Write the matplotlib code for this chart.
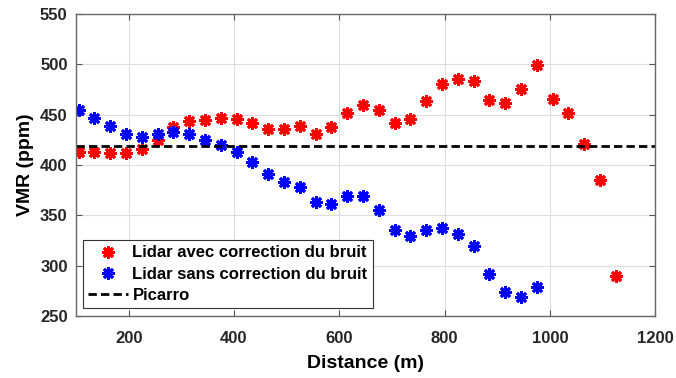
import matplotlib
matplotlib.use("Agg")
import matplotlib.pyplot as plt
import numpy as np

plt.rcParams['font.family'] = ['Liberation Sans', 'DejaVu Sans']
plt.rcParams['font.weight'] = 'bold'

# distances (m), one sample every 30 m
dist_avec = [105, 135, 165, 195, 225, 255, 285, 315, 345, 375,
             405, 435, 465, 495, 525, 555, 585, 615, 645, 675,
             705, 735, 765, 795, 825, 855, 885, 915, 945, 975,
             1005, 1035, 1065, 1095, 1125]
vmr_avec = [413, 413, 412, 412, 416, 425, 438, 444, 445, 447,
            446, 442, 436, 436, 439, 431, 438, 452, 460, 455,
            442, 446, 464, 480, 485, 483, 465, 462, 475, 499,
            466, 452, 421, 385, 290]

dist_sans = dist_avec[:30]
vmr_sans = [455, 447, 439, 431, 428, 431, 433, 431, 425, 420,
            413, 403, 391, 383, 378, 363, 361, 369, 369, 355,
            335, 329, 335, 337, 331, 320, 292, 274, 269, 279]

picarro = 419

fig = plt.figure(figsize=(6.76, 3.78), dpi=100)
ax = fig.add_axes([0.1124, 0.164, 0.857, 0.799])

ax.plot(dist_avec, vmr_avec, linestyle='none', marker=(8, 2, 0), color='#ff0000',
        markersize=9, markeredgewidth=2.0, label='Lidar avec correction du bruit')
ax.plot(dist_sans, vmr_sans, linestyle='none', marker=(8, 2, 0), color='#0000ff',
        markersize=9, markeredgewidth=2.0, label='Lidar sans correction du bruit')
ax.plot([100, 1200], [picarro, picarro], color='black', linewidth=2,
        dashes=(3, 1.5), label='Picarro')

ax.set_xlim(100, 1200)
ax.set_ylim(250, 550)
ax.set_xticks([200, 400, 600, 800, 1000, 1200])
ax.set_yticks([250, 300, 350, 400, 450, 500, 550])
ax.grid(True, color='#dddddd', linewidth=0.8)
ax.set_axisbelow(True)
ax.tick_params(direction='in', top=True, right=True, length=4, color='#555555',
               labelsize=12, labelcolor='#262626', pad=6)
ax.tick_params(axis='x', pad=11)
for sp in ax.spines.values():
    sp.set_color('#666666')
    sp.set_linewidth(1)

ax.set_xlabel('Distance (m)', fontsize=14, fontweight='bold', labelpad=6)
ax.set_ylabel('VMR (ppm)', fontsize=14, fontweight='bold', labelpad=4)

leg = ax.legend(loc='lower left', bbox_to_anchor=(0.0126, 0.0265), borderaxespad=0,
                fancybox=False, edgecolor='#333333', framealpha=1, fontsize=12,
                handlelength=2.4, handletextpad=0.25, labelspacing=0.38,
                borderpad=0.3)
leg.get_frame().set_linewidth(0.8)

fig.savefig('out.png', dpi=100)
